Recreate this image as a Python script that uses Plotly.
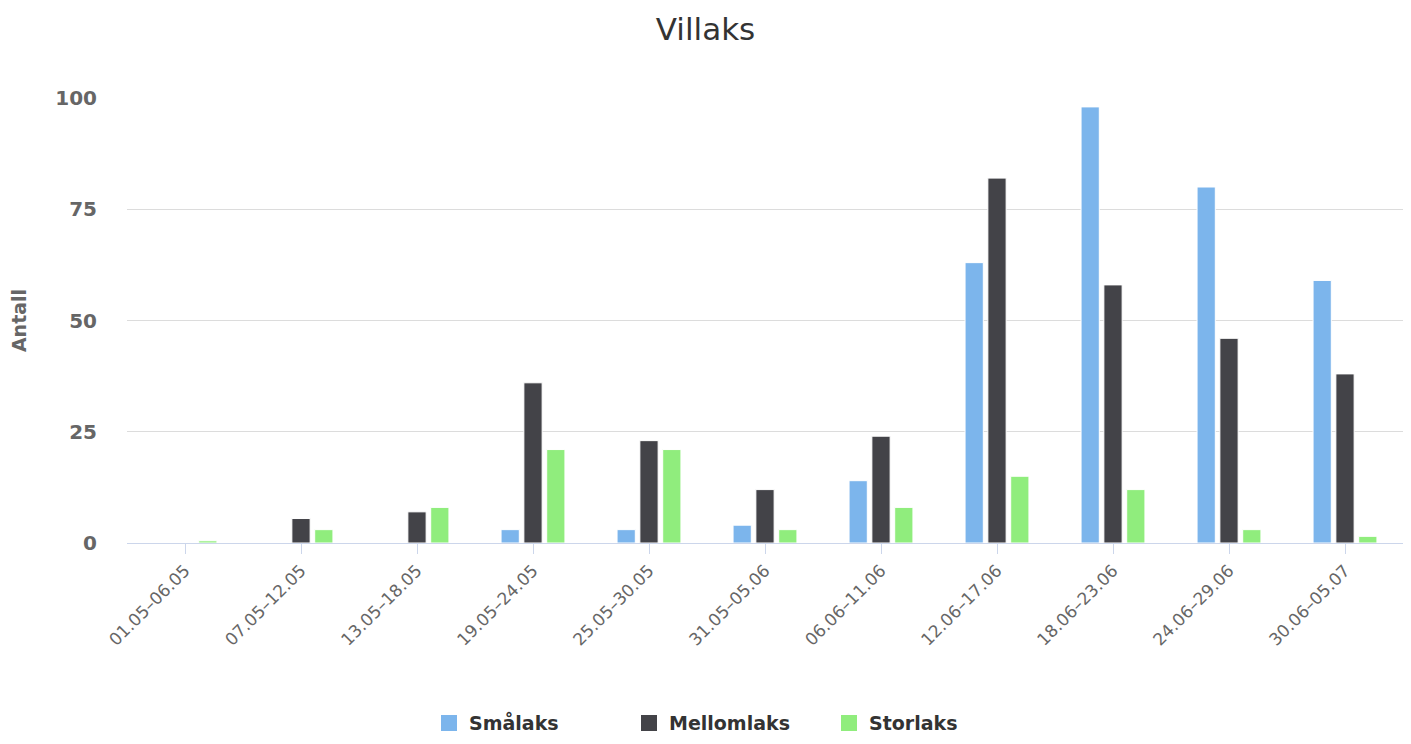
import plotly.graph_objects as go

categories = ["01.05–06.05", "07.05–12.05", "13.05–18.05", "19.05–24.05",
              "25.05–30.05", "31.05–05.06", "06.06–11.06", "12.06–17.06",
              "18.06–23.06", "24.06–29.06", "30.06–05.07"]
smalaks = [0, 0, 0, 3, 3, 4, 14, 63, 98, 80, 59]
mellomlaks = [0, 5.5, 7, 36, 23, 12, 24, 82, 58, 46, 38]
storlaks = [0.5, 3, 8, 21, 21, 3, 8, 15, 12, 3, 1.5]

series = [("Smålaks", smalaks, "#7cb5ec"),
          ("Mellomlaks", mellomlaks, "#434348"),
          ("Storlaks", storlaks, "#90ed7d")]

FONT = "DejaVu Sans, Verdana, sans-serif"

fig = go.Figure()
for name, vals, color in series:
    fig.add_trace(go.Bar(
        x=categories, y=vals, name=name, showlegend=False,
        marker=dict(color=color, line=dict(color="#ffffff", width=1)),
    ))
# legend entries with larger square swatches
for name, vals, color in series:
    fig.add_trace(go.Scatter(
        x=[None], y=[None], mode="markers", name=name,
        marker=dict(symbol="square", size=22, color=color),
    ))

W, H = 1395, 728
fig.update_layout(
    width=W, height=H,
    margin=dict(l=119, r=0, t=90, b=193, autoexpand=False),
    paper_bgcolor="white", plot_bgcolor="white",
    barmode="group", bargap=0.41, bargroupgap=0.2,
    font=dict(family=FONT, color="#666666"),
    title=dict(text="Villaks", x=0.5, xanchor="center", y=1 - 21 / H, yanchor="middle",
               font=dict(size=31, color="#333333", family=FONT)),
    showlegend=True,
    legend=dict(orientation="h", x=0.5, xanchor="left", y=-0.405, yanchor="middle",
                font=dict(size=19, color="#333333", family=FONT, weight="bold"),
                itemsizing="trace", traceorder="normal", itemwidth=30,
                entrywidth=155, entrywidthmode="pixels"),
    xaxis=dict(
        type="category", tickangle=-45,
        tickfont=dict(size=17, color="#666666", family=FONT),
        showline=True, linecolor="#ccd6eb", linewidth=1,
        ticks="outside", ticklen=10, tickcolor="#ccd6eb",
        showgrid=False, zeroline=False,
    ),
    yaxis=dict(
        range=[0, 100], tickvals=[0, 25, 50, 75, 100],
        tickfont=dict(size=20, color="#666666", family=FONT, weight="bold"),
        showgrid=True, gridcolor="#dcdcdc", gridwidth=1,
        zeroline=False, showline=False, ticks="", ticklabelstandoff=29,
        title=dict(text="Antall", standoff=24,
                   font=dict(size=19, color="#666666", family=FONT, weight="bold")),
    ),
)
# place the legend's left edge where the reference's first swatch begins
fig.update_layout(legend_x=(441 - 8 - 119 - 12) / (W - 119))

fig.write_html("out.html")
